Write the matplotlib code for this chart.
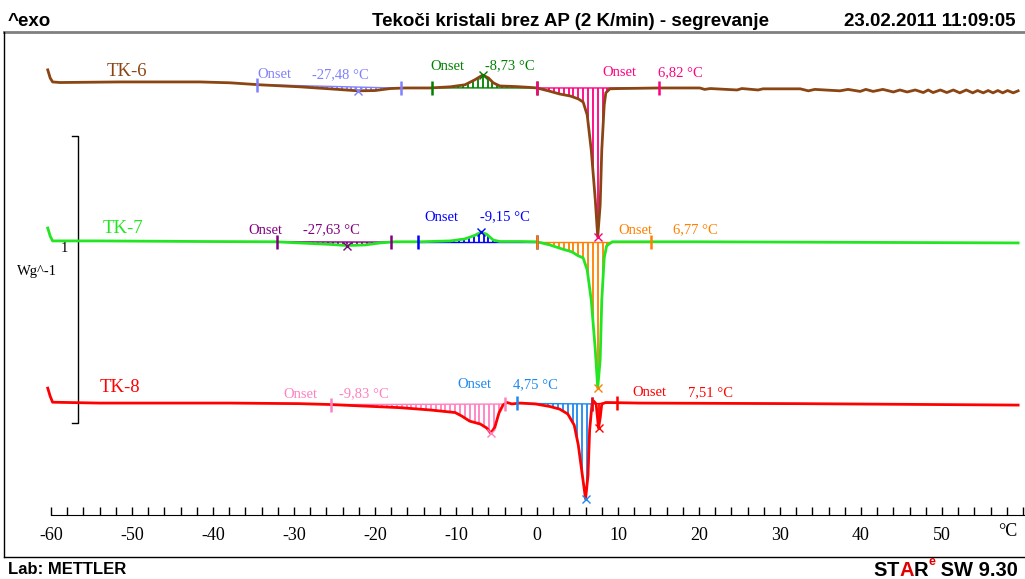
import matplotlib
matplotlib.use("Agg")
import matplotlib.pyplot as plt
from matplotlib.lines import Line2D
import numpy as np

# DSC heating curves, temperature in °C, heat flow in W/g relative to each curve's baseline
tk6_temp = [-60.4, -60.1, -59.8, -58.9, -51.5, -41.6, -37.9, -34.2, -29.3, -25.6, -22.1, -20.0,
            -18.1, -16.3, -13.2, -10.7, -8.9, -7.7, -6.7, -6.0, -5.4, -4.6, -2.7, -0.9, 0.0,
            1.4, 2.8, 4.1, 5.1, 5.7, 6.2, 6.7, 7.2, 7.5, 7.8, 8.0, 8.3, 8.5, 9.0, 10.2, 15.2,
            20.1, 20.7, 21.4, 24.7, 25.3, 27.3, 27.9, 32.5, 33.5, 34.3, 37.4, 38.4, 39.9, 40.6,
            41.5, 42.7, 44.0, 44.8, 45.7, 46.7, 47.7, 48.3, 48.9, 49.8, 50.6, 51.4, 52.2, 53.0,
            53.8, 54.4, 55.1, 55.7, 56.3, 56.9, 57.5, 58.1, 58.8, 59.4]
tk6_flow = [0.042, 0.014, 0.0, -0.002, 0.0, 0.0, -0.003, -0.010, -0.017, -0.024, -0.031, -0.030,
            -0.023, -0.021, -0.021, -0.017, -0.010, 0.007, 0.024, 0.014, -0.003, -0.014, -0.016,
            -0.019, -0.021, -0.031, -0.042, -0.049, -0.059, -0.070, -0.115, -0.237, -0.411,
            -0.540, -0.429, -0.237, -0.080, -0.038, -0.024, -0.023, -0.021,
            -0.021, -0.026, -0.023, -0.028, -0.023, -0.028, -0.024, -0.024, -0.031, -0.026,
            -0.031, -0.026, -0.033, -0.026, -0.033, -0.026, -0.035, -0.028, -0.035, -0.028,
            -0.037, -0.028, -0.037, -0.028, -0.037, -0.028, -0.038, -0.028, -0.038, -0.030,
            -0.038, -0.030, -0.038, -0.030, -0.038, -0.030, -0.038, -0.031]

tk7_temp = [-60.4, -60.1, -59.8, -54.0, -41.6, -32.3, -29.3, -25.6, -23.5, -21.2, -19.4, -17.5,
            -14.4, -10.7, -8.9, -7.7, -6.9, -6.2, -5.4, -4.6, -2.1, 0.0, 1.6, 3.1, 4.3, 5.1,
            5.7, 6.2, 6.7, 7.2, 7.5, 7.8, 8.0, 8.3, 8.6, 9.3, 20.1, 59.4]
tk7_flow = [0.045, 0.017, 0.0, 0.0, -0.002, -0.003, -0.007, -0.012, -0.016, -0.014, -0.007,
            -0.003, -0.003, 0.0, 0.007, 0.019, 0.031, 0.023, 0.003, -0.002, -0.002, -0.003,
            -0.014, -0.028, -0.038, -0.052, -0.059, -0.101, -0.206, -0.380, -0.512, -0.415,
            -0.206, -0.059, -0.017, -0.003, -0.003, -0.007]

tk8_temp = [-60.4, -60.1, -59.8, -54.0, -37.9, -29.3, -25.6, -16.9, -13.2, -10.1, -9.3, -8.3,
            -7.0, -6.2, -5.7, -5.2, -4.7, -4.2, -3.7, -3.1, -2.1, -0.2, 1.6, 2.8, 3.8, 4.6,
            5.1, 5.6, 6.0, 6.3, 6.5, 6.8, 7.0, 7.3, 7.5, 7.6, 7.8, 8.0, 8.5, 12.7, 32.5, 59.4]
tk8_flow = [0.052, 0.024, 0.003, 0.0, 0.0, -0.002, -0.005, -0.016, -0.024, -0.033, -0.045,
            -0.063, -0.073, -0.087, -0.105, -0.084, -0.035, -0.007, 0.002, -0.003, 0.0, -0.003,
            -0.012, -0.021, -0.038, -0.077, -0.146, -0.251, -0.334, -0.251, -0.094, -0.003,
            0.007, -0.003, -0.059, -0.087, -0.052, -0.003, 0.002, 0.0, -0.002, -0.007]

curve_names = ["TK-6", "TK-7", "TK-8"]
curve_colors = ["#8b4513", "#22e622", "#ff0000"]
curve_offsets = [1.509, 0.955, 0.390]

# evaluated peaks: curve, integration limits, peak temperature, onset value
region_curve = [0, 0, 0, 1, 1, 1, 2, 2, 2]
region_start = [-34.6, -13.0, 0.0, -32.1, -14.7, 0.0, -25.4, -2.5, 6.8]
region_end = [-16.8, 0.0, 15.1, -18.0, 0.0, 14.1, -4.0, 6.8, 9.9]
region_peak = [-22.1, -6.7, 7.5, -23.5, -6.9, 7.5, -5.7, 6.0, 7.6]
region_onset = ["-27,48", "-8,73", "6,82", "-27,63", "-9,15", "6,77", "-9,83", "4,75", "7,51"]
region_colors = ["#8080ff", "#008000", "#ff0080", "#800080", "#0000ff", "#ff8000",
                 "#ff80c0", "#1e88f0", "#ff0000"]

W, H = 1025, 579
fig = plt.figure(figsize=(W / 100, H / 100), dpi=100)

def fx(x):
    return x / W

def fy(y):
    return 1 - y / H

ax = fig.add_axes([fx(4), fy(515), fx(1025 - 4), fy(32) - fy(515)])
ax.set_xlim(-65.8, 60.25)
ax.set_ylim(0, 1.683)
ax.patch.set_alpha(0)
for s in ["top", "left", "right"]:
    ax.spines[s].set_visible(False)
ax.spines["bottom"].set_bounds(-60, 60.25)
ax.set_yticks([])
ax.set_xticks(range(-60, 51, 10))
ax.set_xticks(range(-60, 61, 2), minor=True)
ax.tick_params(axis="x", which="both", direction="in", length=6, width=1, pad=9)
ax.set_xticklabels([str(t) for t in range(-60, 51, 10)], family="Liberation Serif", fontsize=13)

temps = [tk6_temp, tk7_temp, tk8_temp]
flows = [tk6_flow, tk7_flow, tk8_flow]

def curve_at(i, t):
    return curve_offsets[i] + np.interp(t, temps[i], flows[i])

# hatched peak areas
for k in range(len(region_curve)):
    i = region_curve[k]
    t0, t1 = region_start[k], region_end[k]
    y0, y1 = curve_at(i, t0), curve_at(i, t1)
    ts = np.arange(t0 + 0.3, t1, 0.6)
    base = y0 + (y1 - y0) * (ts - t0) / (t1 - t0)
    ax.vlines(ts, base, curve_at(i, ts), color=region_colors[k], lw=1.3, zorder=2)
    ax.plot([t0, t1], [y0, y1], color=region_colors[k], lw=1, zorder=2)
    ax.plot([t0, t1], [y0, y1], ls="none", marker="|", ms=10, mew=1.8,
            color=region_colors[k], zorder=4)
    ax.plot(region_peak[k], curve_at(i, region_peak[k]), ls="none", marker="x", ms=6,
            mew=1, color=region_colors[k], zorder=5)

for i in range(3):
    ax.plot(temps[i], np.array(flows[i]) + curve_offsets[i], color=curve_colors[i],
            lw=2, zorder=3, solid_joinstyle="round")

# scale bar (1 W/g)
ax.plot([-57.4, -56.67, -56.67, -57.4], [1.321, 1.321, 0.321, 0.321], color="black", lw=1)

serif = "Liberation Serif"
fig.text(fx(64), fy(248), "1", family=serif, fontsize=10.5, ha="center", va="center")
fig.text(fx(37), fy(272), "Wg^-1", family=serif, fontsize=10.5, ha="center", va="center")

# curve names
name_pos = [(107, 72), (103, 229), (100, 388)]
for i in range(3):
    fig.text(fx(name_pos[i][0]), fy(name_pos[i][1]), curve_names[i], family=serif,
             fontsize=13.5, color=curve_colors[i], va="center")

# onset annotations
label_pos = [(257, 312, 75), (430, 485, 66), (602, 658, 73),
             (248, 303, 230), (424, 480, 217), (618, 673, 230),
             (283, 339, 394), (457, 513, 385), (632, 688, 393)]
for k in range(len(region_curve)):
    xa, xb, y = label_pos[k]
    fig.text(fx(xa), fy(y), "Onset", family=serif, fontsize=10.5, color=region_colors[k], va="center")
    fig.text(fx(xb), fy(y), region_onset[k] + " °C", family=serif, fontsize=10.5,
             color=region_colors[k], va="center")

fig.text(fx(1008), fy(531), "°C", family=serif, fontsize=13, ha="center", va="center")

# frame
fig.add_artist(Line2D([fx(4), fx(1025)], [fy(32), fy(32)], color="#808080", lw=2))
fig.add_artist(Line2D([fx(4), fx(4)], [fy(32), fy(557)], color="black", lw=1))
fig.add_artist(Line2D([fx(4), fx(1025)], [fy(557), fy(557)], color="black", lw=1))

sans = "Liberation Sans"
fig.text(fx(8), fy(22), "^exo", family=sans, weight="bold", fontsize=13.5, va="center")
fig.text(fx(571), fy(22), "Tekoči kristali brez AP (2 K/min) - segrevanje", family=sans,
         weight="bold", fontsize=13.5, ha="center", va="center")
fig.text(fx(1016), fy(22), "23.02.2011 11:09:05", family=sans, weight="bold", fontsize=13.5,
         ha="right", va="center")
fig.text(fx(8), fy(570), "Lab: METTLER", family=sans, weight="bold", fontsize=12, va="center")

# STARe logo text, pieces placed one after another, right aligned
renderer = fig.canvas.get_renderer()
pieces = [("S", "black", 14.5, 570), ("T", "black", 14.5, 570), ("A", "#e00000", 14.5, 570),
          ("R", "black", 14.5, 570), ("e", "#e00000", 9, 562), (" SW 9.30", "black", 14.5, 570)]
texts = []
for txt, col, size, y in pieces:
    texts.append(fig.text(0, fy(y), txt, family=sans, weight="bold", fontsize=size,
                          color=col, va="center"))
widths = [t.get_window_extent(renderer).width for t in texts]
x = 1018 - sum(widths)
for t, w in zip(texts, widths):
    t.set_x(fx(x))
    x += w

fig.savefig("out.png", dpi=100)
